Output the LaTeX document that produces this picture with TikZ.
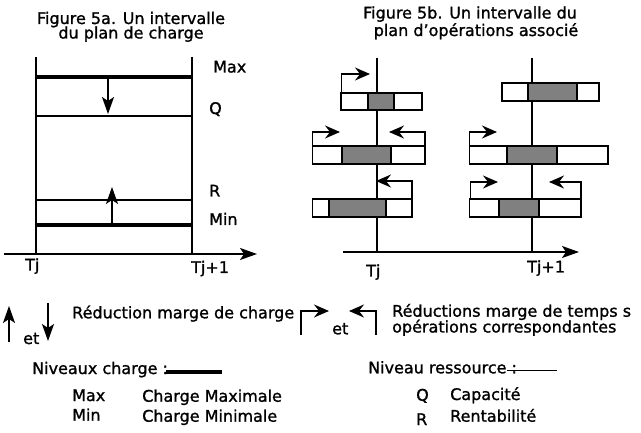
\documentclass[tikz,border=0pt]{standalone}
\usepackage{fontspec}
\setmainfont{DejaVu Sans}[FakeBold=1.2]
\usetikzlibrary{arrows.meta}
\begin{document}
\begin{tikzpicture}[x=1pt,y=-1pt,
  txt/.style={anchor=base west,inner sep=0pt,font=\fontsize{16}{18}\selectfont},
  ttl/.style={anchor=base,inner sep=0pt,font=\fontsize{16}{18}\selectfont},
  thin/.style={line width=1.6pt},
  thick line/.style={line width=3.2pt},
  arr/.style={line width=1.6pt,-{Stealth[length=17pt,width=12pt,inset=4pt]}},
  sarr/.style={line width=1.6pt,-{Stealth[length=15pt,width=13pt,inset=5pt]}},
  opbox/.style={line width=1.6pt,draw=black,fill=white},
  opcore/.style={line width=1.6pt,draw=black,fill=gray}
]
\path[use as bounding box,fill=white] (0,0) rectangle (641,433);

% ---------- Figure 5a ----------
\node[ttl] (t5a1) at (131,24) {Figure 5a. Un intervalle};
\node[ttl] (t5a2) at (131,38.5) {du plan de charge};

\coordinate (a0) at (4,254);
\coordinate (a1) at (257,254);
\draw[arr] (a0) -- (a1);
\coordinate (lv0) at (36,57); \coordinate (lv1) at (36,254);
\coordinate (rv0) at (192,57); \coordinate (rv1) at (192,254);
\draw[thin] (lv0) -- (lv1);
\draw[thin] (rv0) -- (rv1);

\coordinate (max0) at (36,77);  \coordinate (max1) at (193,77);
\coordinate (q0) at (35,116);   \coordinate (q1) at (192,116);
\coordinate (r0) at (35,200);   \coordinate (r1) at (192,200);
\coordinate (min0) at (36,225); \coordinate (min1) at (193,225);
\draw[thick line] (max0) -- (max1);
\draw[thin] (q0) -- (q1);
\draw[thin] (r0) -- (r1);
\draw[thick line] (min0) -- (min1);

\coordinate (d0) at (108,77);  \coordinate (d1) at (108,114);
\coordinate (u0) at (112,225); \coordinate (u1) at (112,187);
\draw[arr] (d0) -- (d1);
\draw[arr] (u0) -- (u1);

\node[txt] (lmax) at (213,72.5) {Max};
\node[txt] (lq) at (209,114) {Q};
\node[txt] (lr) at (209,196.5) {R};
\node[txt] (lmin) at (209,225) {Min};
\node[txt] (ltj) at (25,270.5) {Tj};
\node[txt] (ltj1) at (191,273) {Tj+1};

% ---------- Figure 5b ----------
\node[ttl] (t5b1) at (470,18.5) {Figure 5b. Un intervalle du};
\node[ttl] (t5b2) at (476,36) {plan d'opérations associé};

\coordinate (b0) at (343,252);
\coordinate (b1) at (579,252);
\draw[arr] (b0) -- (b1);
\coordinate (blv0) at (377,58); \coordinate (blv1) at (377,252);
\coordinate (brv0) at (532,58); \coordinate (brv1) at (532,252);
\draw[thin] (blv0) -- (blv1);
\draw[thin] (brv0) -- (brv1);

% boxes: outer then grey core
\draw[opbox] (341,93) rectangle (422,110);
\draw[opcore] (368,93) rectangle (394,110);
\draw[opbox] (312.5,146) rectangle (425,164);
\draw[opcore] (342,146) rectangle (391,164);
\draw[opbox] (312.5,199) rectangle (412,217);
\draw[opcore] (329,199) rectangle (386,217);

\draw[opbox] (502,83) rectangle (599,101);
\draw[opcore] (528,83) rectangle (577,101);
\draw[opbox] (469.5,146) rectangle (608,164);
\draw[opcore] (507,146) rectangle (557,164);
\draw[opbox] (469.5,199) rectangle (581,217);
\draw[opcore] (499,199) rectangle (539,217);

% shift arrows
\coordinate (s1a) at (341.5,93);  \coordinate (s1b) at (370,74);
\draw[sarr] (s1a) |- (s1b);
\coordinate (s2a) at (312.5,146); \coordinate (s2b) at (340,132);
\draw[sarr] (s2a) |- (s2b);
\coordinate (s3a) at (425,146);   \coordinate (s3b) at (389,132);
\draw[sarr] (s3a) |- (s3b);
\coordinate (s4a) at (412,199);   \coordinate (s4b) at (376,181);
\draw[sarr] (s4a) |- (s4b);
\coordinate (s5a) at (469.5,146); \coordinate (s5b) at (497,132);
\draw[sarr] (s5a) |- (s5b);
\coordinate (s6a) at (470.5,199); \coordinate (s6b) at (498,182);
\draw[sarr] (s6a) |- (s6b);
\coordinate (s7a) at (581,199);   \coordinate (s7b) at (549,182);
\draw[sarr] (s7a) |- (s7b);

\node[txt] (btj) at (366,276.5) {Tj};
\node[txt] (btj1) at (527,272.5) {Tj+1};

% ---------- Legend ----------
\coordinate (lu0) at (9,342);  \coordinate (lu1) at (9,306);
\draw[arr] (lu0) -- (lu1);
\node[txt] (let1) at (23,344) {et};
\coordinate (ld0) at (48,303); \coordinate (ld1) at (48,341);
\draw[arr] (ld0) -- (ld1);
\node[txt] (lred) at (72,318.3) {Réduction marge de charge};

\coordinate (lr0) at (301,335); \coordinate (lr1) at (329,311);
\draw[sarr] (lr0) |- (lr1);
\node[txt] (let2) at (332,334.3) {et};
\coordinate (ll0) at (376,335); \coordinate (ll1) at (349,311);
\draw[sarr] (ll0) |- (ll1);
\node[txt] (lred2) at (392,316.7) {Réductions marge de temps s};
\node[txt] (lops) at (392,332.5) {opérations correspondantes};

\node[txt] (nivc) at (32,374) {Niveaux charge :};
\coordinate (nc0) at (166,372); \coordinate (nc1) at (222,372);
\draw[thick line] (nc0) -- (nc1);
\node[txt] (nivr) at (368,373.3) {Niveau ressource :};
\coordinate (nr0) at (507,370.5); \coordinate (nr1) at (557,370.5);
\draw[thin] (nr0) -- (nr1);

\node[txt] (kmax) at (72,401) {Max};
\node[txt] (kmaxd) at (142,401.7) {Charge Maximale};
\node[txt] (kmin) at (72,420.7) {Min};
\node[txt] (kmind) at (142,421.7) {Charge Minimale};
\node[txt] (kq) at (416,400.7) {Q};
\node[txt] (kqd) at (450,400) {Capacité};
\node[txt] (kr) at (416,425) {R};
\node[txt] (krd) at (450,421.7) {Rentabilité};
\end{tikzpicture}
\end{document}
